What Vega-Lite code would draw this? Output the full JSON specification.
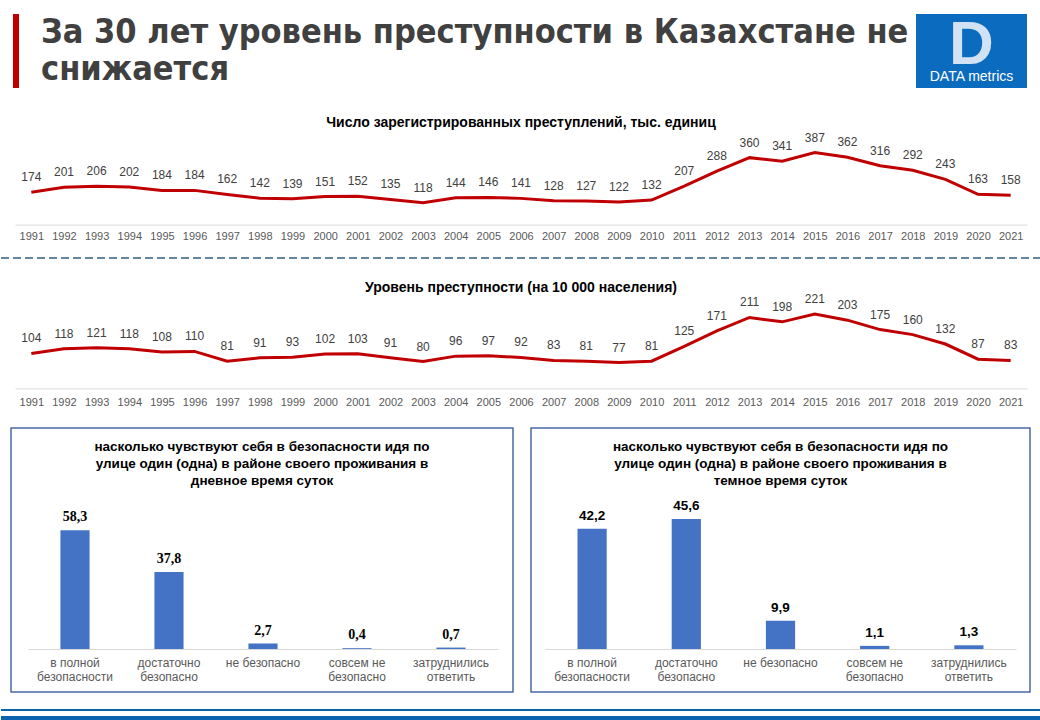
{
  "$schema": "https://vega.github.io/schema/vega-lite/v6.json",
  "padding": {"top": 14, "left": 0, "right": 0, "bottom": 0},
  "background": "white",
  "config": {
    "view": {"stroke": null},
    "font": "Liberation Sans",
    "locale": {"number": {"decimal": ",", "thousands": " ", "grouping": [3], "currency": ["", ""]}}
  },
  "datasets": {
    "crime": [
      {"year": 1991, "crimes": 174, "rate": 104},
      {"year": 1992, "crimes": 201, "rate": 118},
      {"year": 1993, "crimes": 206, "rate": 121},
      {"year": 1994, "crimes": 202, "rate": 118},
      {"year": 1995, "crimes": 184, "rate": 108},
      {"year": 1996, "crimes": 184, "rate": 110},
      {"year": 1997, "crimes": 162, "rate": 81},
      {"year": 1998, "crimes": 142, "rate": 91},
      {"year": 1999, "crimes": 139, "rate": 93},
      {"year": 2000, "crimes": 151, "rate": 102},
      {"year": 2001, "crimes": 152, "rate": 103},
      {"year": 2002, "crimes": 135, "rate": 91},
      {"year": 2003, "crimes": 118, "rate": 80},
      {"year": 2004, "crimes": 144, "rate": 96},
      {"year": 2005, "crimes": 146, "rate": 97},
      {"year": 2006, "crimes": 141, "rate": 92},
      {"year": 2007, "crimes": 128, "rate": 83},
      {"year": 2008, "crimes": 127, "rate": 81},
      {"year": 2009, "crimes": 122, "rate": 77},
      {"year": 2010, "crimes": 132, "rate": 81},
      {"year": 2011, "crimes": 207, "rate": 125},
      {"year": 2012, "crimes": 288, "rate": 171},
      {"year": 2013, "crimes": 360, "rate": 211},
      {"year": 2014, "crimes": 341, "rate": 198},
      {"year": 2015, "crimes": 387, "rate": 221},
      {"year": 2016, "crimes": 362, "rate": 203},
      {"year": 2017, "crimes": 316, "rate": 175},
      {"year": 2018, "crimes": 292, "rate": 160},
      {"year": 2019, "crimes": 243, "rate": 132},
      {"year": 2020, "crimes": 163, "rate": 87},
      {"year": 2021, "crimes": 158, "rate": 83}
    ],
    "day": [
      {"cat": "в полной|безопасности", "v": 58.3},
      {"cat": "достаточно|безопасно", "v": 37.8},
      {"cat": "не безопасно", "v": 2.7},
      {"cat": "совсем не|безопасно", "v": 0.4},
      {"cat": "затруднились|ответить", "v": 0.7}
    ],
    "night": [
      {"cat": "в полной|безопасности", "v": 42.2},
      {"cat": "достаточно|безопасно", "v": 45.6},
      {"cat": "не безопасно", "v": 9.9},
      {"cat": "совсем не|безопасно", "v": 1.1},
      {"cat": "затруднились|ответить", "v": 1.3}
    ]
  },
  "spacing": 0,
  "bounds": "full",
  "vconcat": [
    {
      "hconcat": [
        {"width": 12, "height": 74, "data": {"values": []}, "mark": "point"},
        {"width": 6, "height": 74, "data": {"values": []}, "mark": "point", "view": {"fill": "#C00000", "stroke": null}},
        {
          "width": 897, "height": 74, "data": {"values": []}, "mark": "point",
          "title": {
            "text": ["За  30  лет  уровень  преступности  в  Казахстане  не", "снижается"],
            "anchor": "start", "frame": "group", "orient": "top", "offset": -73, "dx": 22,
            "font": "DejaVu Sans Condensed", "fontSize": 34, "fontWeight": "bold", "color": "#404040", "lineHeight": 37
          }
        },
        {
          "width": 111, "height": 74, "data": {"values": []}, "mark": "point",
          "view": {"fill": "#0B6BBF", "stroke": null},
          "title": {
            "text": "D", "subtitle": "DATA metrics", "anchor": "middle", "frame": "group", "orient": "top", "offset": -71,
            "font": "Liberation Sans", "fontSize": 62, "fontWeight": "bold", "color": "#D0E2F4",
            "subtitleColor": "white", "subtitleFontSize": 14, "subtitleFont": "Liberation Sans", "subtitlePadding": -7
          }
        }
      ],
      "spacing": 0,
      "bounds": "flush"
    },
    {
      "width": 1040, "height": 169,
      "data": {"name": "crime"},
      "title": {"text": "Число зарегистрированных преступлений, тыс. единиц", "anchor": "middle", "frame": "group", "orient": "top", "offset": -42, "fontSize": 14, "fontWeight": "bold", "color": "#000000", "font": "Liberation Sans"},
      "encoding": {
        "x": {
          "field": "year", "type": "ordinal",
          "scale": {"range": [14, 1026]},
          "axis": {"title": null, "offset": -32.4, "labelAngle": 0, "labelFontSize": 11, "labelColor": "#595959", "ticks": false, "domainColor": "#D9D9D9", "labelPadding": 6, "grid": false}
        },
        "y": {"field": "crimes", "type": "quantitative", "scale": {"domain": [0, 500], "range": [136.6, 43.6]}, "axis": null}
      },
      "layer": [
        {"mark": {"type": "line", "color": "#C00000", "strokeWidth": 3}},
        {"mark": {"type": "text", "dy": -15, "baseline": "middle", "fontSize": 12, "color": "#404040"}, "encoding": {"text": {"field": "crimes", "type": "quantitative"}}}
      ]
    },
    {
      "width": 1040, "height": 2,
      "data": {"values": [{}]},
      "mark": {"type": "rule", "strokeDash": [8, 4], "color": "#2F5F7F", "strokeWidth": 1.5},
      "encoding": {"y": {"datum": 1, "type": "quantitative", "scale": {"domain": [0, 1]}, "axis": null}}
    },
    {
      "width": 1040, "height": 167,
      "data": {"name": "crime"},
      "title": {"text": "Уровень преступности  (на 10 000 населения)", "anchor": "middle", "frame": "group", "orient": "top", "offset": -35, "fontSize": 14, "fontWeight": "bold", "color": "#000000", "font": "Liberation Sans"},
      "encoding": {
        "x": {
          "field": "year", "type": "ordinal",
          "scale": {"range": [14, 1026]},
          "axis": {"title": null, "offset": -38.6, "labelAngle": 0, "labelFontSize": 11, "labelColor": "#595959", "ticks": false, "domainColor": "#D9D9D9", "labelPadding": 8, "grid": false}
        },
        "y": {"field": "rate", "type": "quantitative", "scale": {"domain": [0, 260], "range": [128.4, 41]}, "axis": null}
      },
      "layer": [
        {"mark": {"type": "line", "color": "#C00000", "strokeWidth": 3}},
        {"mark": {"type": "text", "dy": -15, "baseline": "middle", "fontSize": 12, "color": "#404040"}, "encoding": {"text": {"field": "rate", "type": "quantitative"}}}
      ]
    },
    {
      "hconcat": [
        {"width": 10, "height": 264, "data": {"values": []}, "mark": "point"},
        {
          "width": 502, "height": 264,
          "view": {"stroke": "#4A6AA5", "strokeWidth": 1.5},
          "data": {"name": "day"},
          "title": {
            "text": ["насколько чувствуют  себя  в безопасности  идя по", "улице один (одна)  в районе своего проживания в", "дневное время суток"],
            "anchor": "middle", "frame": "group", "orient": "top", "offset": -59, "lineHeight": 17,
            "fontSize": 13.5, "fontWeight": "bold", "color": "#000000", "font": "Liberation Sans"
          },
          "encoding": {
            "x": {
              "field": "cat", "type": "nominal", "sort": null,
              "scale": {"range": [17, 487], "paddingInner": 0.69, "paddingOuter": 0.345},
              "axis": {"title": null, "offset": -43, "labelAngle": 0, "labelExpr": "split(datum.label, '|')", "labelFontSize": 12, "labelColor": "#595959", "ticks": false, "domainColor": "#D9D9D9", "labelPadding": 8, "labelLineHeight": 14, "grid": false}
            },
            "y": {"field": "v", "type": "quantitative", "scale": {"domain": [0, 70], "range": [221, 78.5]}, "axis": null}
          },
          "layer": [
            {"mark": {"type": "bar", "color": "#4472C4"}},
            {"mark": {"type": "text", "dy": -6, "baseline": "bottom", "fontSize": 14, "fontWeight": "bold", "font": "Liberation Serif", "color": "#000000"}, "encoding": {"text": {"field": "v", "type": "quantitative", "format": ".1f"}}}
          ]
        },
        {"width": 18, "height": 264, "data": {"values": []}, "mark": "point"},
        {
          "width": 499, "height": 264,
          "view": {"stroke": "#4A6AA5", "strokeWidth": 1.5},
          "data": {"name": "night"},
          "title": {
            "text": ["насколько чувствуют  себя  в безопасности  идя по", "улице один (одна)  в районе своего проживания в", "темное время суток"],
            "anchor": "middle", "frame": "group", "orient": "top", "offset": -59, "lineHeight": 17,
            "fontSize": 13.5, "fontWeight": "bold", "color": "#000000", "font": "Liberation Sans"
          },
          "encoding": {
            "x": {
              "field": "cat", "type": "nominal", "sort": null,
              "scale": {"range": [14, 485], "paddingInner": 0.69, "paddingOuter": 0.345},
              "axis": {"title": null, "offset": -43, "labelAngle": 0, "labelExpr": "split(datum.label, '|')", "labelFontSize": 12, "labelColor": "#595959", "ticks": false, "domainColor": "#D9D9D9", "labelPadding": 8, "labelLineHeight": 14, "grid": false}
            },
            "y": {"field": "v", "type": "quantitative", "scale": {"domain": [0, 50], "range": [221, 78.5]}, "axis": null}
          },
          "layer": [
            {"mark": {"type": "bar", "color": "#4472C4"}},
            {"mark": {"type": "text", "dy": -6, "baseline": "bottom", "fontSize": 13.5, "fontWeight": "bold", "font": "Liberation Sans", "color": "#000000"}, "encoding": {"text": {"field": "v", "type": "quantitative", "format": ".1f"}}}
          ]
        }
      ],
      "spacing": 0,
      "bounds": "flush"
    },
    {"width": 1040, "height": 15.5, "data": {"values": []}, "mark": "point"},
    {"width": 1040, "height": 2, "data": {"values": []}, "mark": "point", "view": {"fill": "#0A63AE", "stroke": null}},
    {"width": 1040, "height": 4.5, "data": {"values": []}, "mark": "point"},
    {"width": 1040, "height": 8, "data": {"values": []}, "mark": "point", "view": {"fill": "#0A63AE", "stroke": null}}
  ]
}
